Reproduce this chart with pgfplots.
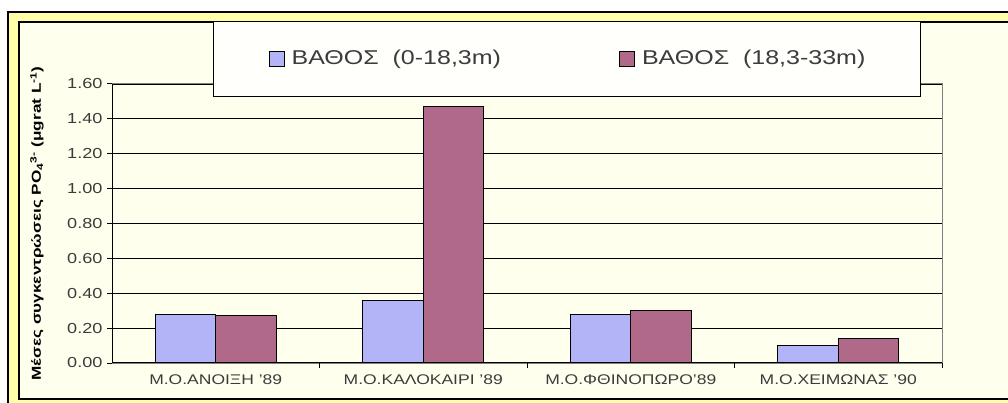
\documentclass[border=0pt]{standalone}
\usepackage{fontspec}
\setmainfont{Liberation Sans}[FakeStretch=1.25]
\usepackage{pgfplots}
\pgfplotsset{compat=1.18}
\definecolor{cream}{RGB}{255,255,238}
\definecolor{band}{RGB}{255,255,170}
\definecolor{legfill}{RGB}{255,255,251}
\definecolor{sblue}{RGB}{179,179,247}
\definecolor{sred}{RGB}{177,105,138}
\definecolor{txt}{RGB}{60,60,60}
\definecolor{bordergray}{RGB}{128,128,128}
\begin{document}
\begin{tikzpicture}
\path[use as bounding box] (0bp,0bp) rectangle (1008bp,403bp);
\clip (0bp,0bp) rectangle (1008bp,403bp);
\fill[white] (0bp,0bp) rectangle (1008bp,403bp);
% outer frame (y measured upward: Y = 403 - ypx)
\fill[black] (7bp,-10bp) rectangle (1020bp,392bp);
\fill[band] (9bp,-10bp) rectangle (1020bp,390bp);
\fill[black] (18bp,3bp) rectangle (1020bp,382bp);
\fill[cream] (20bp,5bp) rectangle (1020bp,380bp);
\begin{axis}[
  at={(112bp,40bp)}, anchor=south west,
  scale only axis, width=830bp, height=279bp,
  xmin=-0.5, xmax=3.5, ymin=0, ymax=1.6,
  ybar=0pt, bar width=60.5bp,
  axis background/.style={fill=cream},
  axis line style={draw=bordergray, line width=1bp},
  ytick={0,0.2,...,1.6},
  /pgf/number format/fixed, /pgf/number format/fixed zerofill, /pgf/number format/precision=2,
  /pgf/number format/assume math mode=true,
  yticklabel style={font=\fontsize{14.5bp}{16bp}\selectfont, text=txt, xshift=-1bp},
  ymajorgrids, grid style={black, line width=1.1bp},
  tick align=outside, ytick pos=left, major tick length=5bp,
  tick style={black, line width=1bp},
  xtick={0,1,2,3},
  xticklabels={Μ.Ο.ΑΝΟΙΞΗ '89, Μ.Ο.ΚΑΛΟΚΑΙΡΙ '89, Μ.Ο.ΦΘΙΝΟΠΩΡΟ'89, Μ.Ο.ΧΕΙΜΩΝΑΣ '90},
  xticklabel style={font=\fontsize{14bp}{16bp}\selectfont, text=txt, yshift=-3bp},
  xtick style={draw=none},
  extra x ticks={0.5,1.5,2.5,3.5},
  extra x tick labels={},
  extra x tick style={grid=none, xtick style={draw=black, line width=1bp}, major tick length=5bp},
  xtick pos=bottom,
  ylabel={Μέσες συγκεντρώσεις PO\textsubscript{4}\textsuperscript{3-} (μgrat L\textsuperscript{-1})},
  ylabel style={at={(axis description cs:-0.0904,0.5)}, anchor=center, font=\fontsize{13bp}{15bp}\selectfont\bfseries\addfontfeatures{FakeStretch=1.32}},
  legend columns=2,
  legend style={at={(axis description cs:0.1217,1.2258)}, anchor=north west,
    draw=black, line width=1.2bp, fill=legfill,
    inner xsep=55bp, inner ysep=28bp,
    font=\fontsize{20bp}{24bp}\selectfont, text=txt,
    nodes={inner sep=0bp, text height=15bp, text depth=4bp},
    /tikz/every odd column/.append style={column sep=7bp},
    /tikz/every even column/.append style={column sep=118bp}},
  legend image code/.code={\draw[#1, line width=1bp] (0bp,-7.5bp) rectangle (15bp,7.5bp);},
]
\addplot[fill=sblue, draw=black, line width=1bp] coordinates {(0,0.28) (1,0.36) (2,0.28) (3,0.10)};
\addplot[fill=sred, draw=black, line width=1bp] coordinates {(0,0.27) (1,1.47) (2,0.30) (3,0.14)};
\addlegendentry{ΒΑΘΟΣ\ \ (0-18,3m)}
\addlegendentry{ΒΑΘΟΣ\ \ (18,3-33m)}
\draw[black, line width=1.5bp] (rel axis cs:0,0) -- (rel axis cs:0,1);
\draw[black, line width=1.5bp] (rel axis cs:0,0) -- (rel axis cs:1,0);
\end{axis}
\fill[band] (9bp,0bp) rectangle (1008bp,3bp);
\fill[black] (18bp,3bp) rectangle (1008bp,5bp);
\end{tikzpicture}
\end{document}
